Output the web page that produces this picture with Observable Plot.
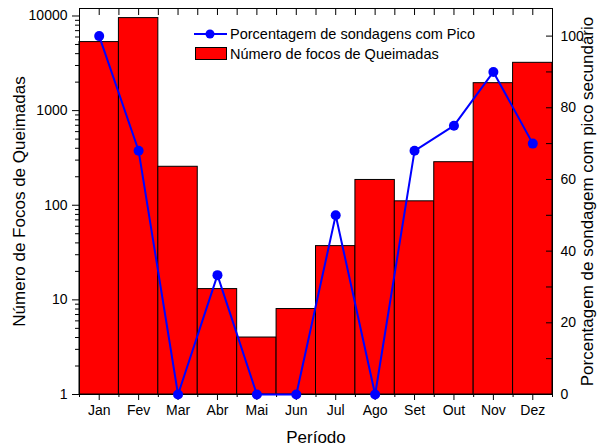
<!DOCTYPE html>
<html>
<head>
<meta charset="utf-8">
<script src="https://cdn.jsdelivr.net/npm/d3@7"></script>
<script src="https://cdn.jsdelivr.net/npm/@observablehq/plot@0.6"></script>
<style>
  body { margin: 0; background: white; font-family: "Liberation Sans", Arial, sans-serif; }
  #wrap { position: relative; width: 597px; height: 448px; overflow: hidden; }
  #wrap > svg, #wrap > div { position: absolute; left: 0; top: 0; }
  #legend { position: absolute; left: 0; top: 0; color: #000; }
</style>
</head>
<body>
<div id="wrap"></div>
<script>
const months = ["Jan","Fev","Mar","Abr","Mai","Jun","Jul","Ago","Set","Out","Nov","Dez"];
const focos = [5300, 9500, 255, 13, 4, 8, 37, 185, 110, 285, 1950, 3200];
const pico = [100, 68, 0, 33.3, 0, 0, 50, 0, 68, 75, 90, 70];
const leftMajor = [1, 10, 100, 1000, 10000];
const rightMajor = [0, 20, 40, 60, 80, 100];
const rightMinor = [10, 30, 50, 70, 90];

const data = months.map((m, i) => ({m, i, focos: focos[i], pico: pico[i]}));
const leftMinor = [];
for (const p of [1, 10, 100, 1000]) for (let k = 2; k <= 9; k++) leftMinor.push(k * p);
const centers = months.map((_, i) => i + 0.5);
const bounds = d3.range(0, 13);

const W = 597, H = 448;
const FONT = "Liberation Sans, Arial, sans-serif";
const common = {
  width: W, height: H,
  marginLeft: 79, marginRight: 45, marginTop: 8, marginBottom: 54,
  style: {fontFamily: FONT, fontSize: "14px", background: "transparent", color: "#000", overflow: "visible"}
};

const p1 = Plot.plot({
  ...common,
  x: {type: "linear", domain: [0, 12]},
  y: {type: "log", domain: [1, 12000]},
  marks: [
    Plot.rectY(data, {x1: "i", x2: d => d.i + 1, y1: () => 1, y2: "focos", fill: "#ff0000", stroke: "#000", strokeWidth: 1}),
    Plot.axisY({ticks: leftMajor, tickSize: 7, tickPadding: 5, tickFormat: d3.format("d"), label: null, fontSize: 14}),
    Plot.axisY({ticks: [], tickSize: 0, label: "Número de Focos de Queimadas", labelAnchor: "center", labelArrow: "none", labelOffset: 67, fontSize: 17}),
    Plot.axisY({ticks: leftMinor, tickSize: 4, tickFormat: () => "", label: null}),
    Plot.axisX({ticks: centers, tickSize: 6, tickPadding: 5, tickFormat: d => months[Math.floor(d)], label: null, fontSize: 14}),
    Plot.axisX({ticks: [], tickSize: 0, label: "Período", labelAnchor: "center", labelArrow: "none", labelOffset: 48, fontSize: 17}),
    Plot.axisX({ticks: bounds, tickSize: 3, tickFormat: () => "", label: null}),
    Plot.axisX({anchor: "top", ticks: centers.concat(bounds.slice(1, 12)), tickSize: -6, tickFormat: () => "", label: null}),
    Plot.frame({stroke: "#000", strokeWidth: 1})
  ]
});
p1.style.background = "white";

const p2 = Plot.plot({
  ...common,
  x: {type: "linear", domain: [0, 12], axis: null},
  y: {type: "linear", domain: [0, 107.7]},
  marks: [
    Plot.line(data, {x: d => d.i + 0.5, y: "pico", stroke: "#0000ff", strokeWidth: 2}),
    Plot.dot(data, {x: d => d.i + 0.5, y: "pico", fill: "#0000ff", r: 5}),
    Plot.axisY({anchor: "right", ticks: rightMajor, tickSize: -7, tickPadding: 15, tickFormat: d3.format("d"), label: null, fontSize: 14}),
    Plot.axisY({anchor: "right", ticks: [], tickSize: 0, label: "Porcentagem de sondagem com pico secundário", labelAnchor: "center", labelArrow: "none", labelOffset: 40, fontSize: 17}),
    Plot.axisY({anchor: "right", ticks: rightMinor, tickSize: -7, tickFormat: () => "", label: null})
  ]
});

const wrap = document.getElementById("wrap");
wrap.appendChild(p1);
wrap.appendChild(p2);

// Legend
const leg = document.createElement("div");
leg.id = "legend";
leg.innerHTML = `
<svg width="597" height="80" style="position:absolute;left:0;top:0;overflow:visible">
  <line x1="194" x2="227" y1="34" y2="34" stroke="#0000ff" stroke-width="2"/>
  <circle cx="210" cy="34" r="4.5" fill="#0000ff"/>
  <text x="230" y="34" dy="0.35em" font-size="14.5" font-family="${FONT}">Porcentagem de sondagens com Pico</text>
  <rect x="195.5" y="47.5" width="31" height="12" fill="#ff0000" stroke="#000" stroke-width="1"/>
  <text x="230" y="54" dy="0.35em" font-size="14.5" font-family="${FONT}">Número de focos de Queimadas</text>
</svg>`;
wrap.appendChild(leg);
</script>
</body>
</html>
